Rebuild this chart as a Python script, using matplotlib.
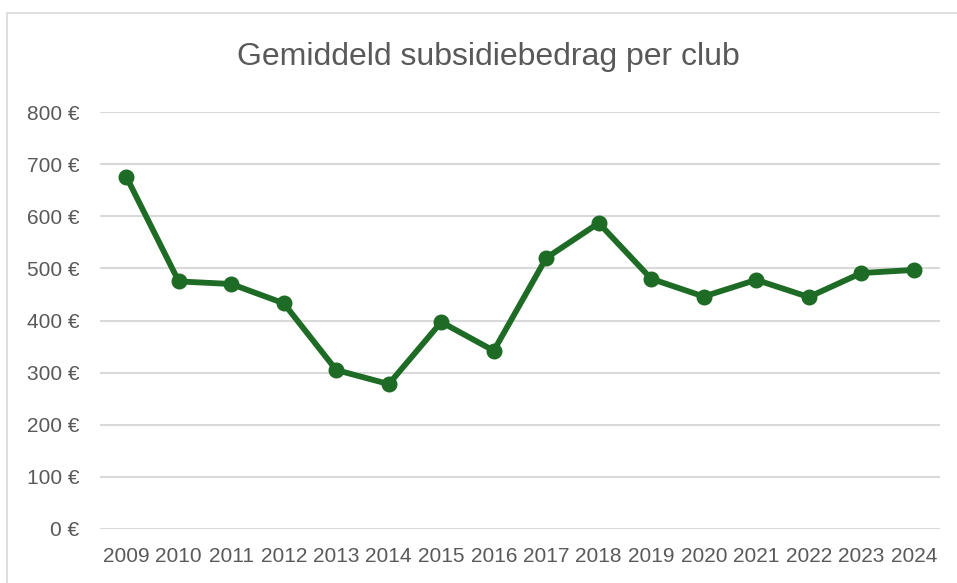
import matplotlib
matplotlib.use("Agg")
import matplotlib.pyplot as plt
from matplotlib.patches import Rectangle

years = ["2009", "2010", "2011", "2012", "2013", "2014", "2015", "2016",
         "2017", "2018", "2019", "2020", "2021", "2022", "2023", "2024"]
values = [676, 475, 470, 433, 305, 278, 397, 342,
          520, 587, 480, 446, 478, 445, 491, 497]
yticks = [0, 100, 200, 300, 400, 500, 600, 700, 800]
title = "Gemiddeld subsidiebedrag per club"

W, H = 957, 583
fig = plt.figure(figsize=(W / 100, H / 100), dpi=100)
fig.patch.set_facecolor("white")
fam = ["Liberation Sans", "DejaVu Sans"]

# chart area border
fig.add_artist(Rectangle((7 / W, -0.1), 1.2, 1 - 13 / H + 0.1,
                         transform=fig.transFigure, fill=False,
                         edgecolor="#d9d9d9", linewidth=1.2))

ax = fig.add_axes([100 / W, 1 - 529 / H, 840 / W, (529 - 112) / H])
x = list(range(len(years)))
ax.plot(x, values, color="#1e6b25", linewidth=4.2, marker="o",
        markersize=10.5, solid_capstyle="round", solid_joinstyle="round",
        zorder=3)
ax.set_xlim(-0.5, len(years) - 0.5)
ax.set_ylim(0, 800)
ax.set_yticks(yticks)
ax.set_yticklabels([f"{v} €" for v in yticks])
ax.set_xticks(x)
ax.set_xticklabels(years)
ax.grid(axis="y", color="#d9d9d9", linewidth=1.5)
ax.set_axisbelow(True)
for s in ax.spines.values():
    s.set_visible(False)
ax.tick_params(axis="both", length=0, colors="#595959", labelsize=15)
ax.tick_params(axis="y", pad=15)
ax.tick_params(axis="x", pad=13)
for lab in ax.get_xticklabels() + ax.get_yticklabels():
    lab.set_fontfamily(fam)

fig.text(488 / W, 1 - 57 / H, title, ha="center", va="center",
         fontsize=23, color="#595959", family=fam)

fig.savefig("out.png", dpi=100, facecolor="white")
